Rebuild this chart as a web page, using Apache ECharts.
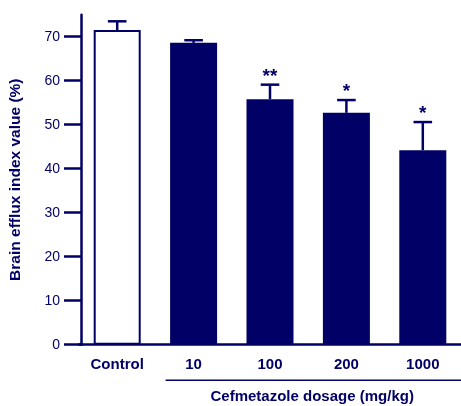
<!DOCTYPE html>
<html>
<head>
<meta charset="utf-8">
<script src="https://cdn.jsdelivr.net/npm/echarts@6/dist/echarts.min.js"></script>
<style>html,body{margin:0;padding:0;background:#fff}#c{width:461px;height:406px}</style>
</head>
<body>
<div id="c"></div>
<script>
var categories = ['Control', '10', '100', '200', '1000'];
var means = [71.5, 68.6, 55.8, 52.7, 44.2];
var sds = [2.0, 0.6, 3.3, 2.9, 6.4];
var significance = ['', '', '**', '*', '*'];
var yTicks = [0, 10, 20, 30, 40, 50, 60, 70];
var yTitle = 'Brain efflux index value (%)';
var xTitle = 'Cefmetazole dosage (mg/kg)';

var NAVY = '#000066';
var FONT = 'Liberation Sans, Arial, sans-serif';
var chart = echarts.init(document.getElementById('c'));

var barData = means.map(function (v, i) {
  return i === 0
    ? { value: v, itemStyle: { color: '#ffffff', borderColor: NAVY, borderWidth: 2 } }
    : { value: v, itemStyle: { color: NAVY } };
});
var errData = means.map(function (v, i) { return [i, v, sds[i], significance[i]]; });

chart.setOption({
  animation: false,
  grid: { left: 75, right: -3, top: 14.7, bottom: 61.3 },
  xAxis: {
    type: 'category',
    data: categories,
    axisTick: { show: false },
    axisLine: { lineStyle: { color: NAVY, width: 2.5 } },
    axisLabel: { color: NAVY, fontWeight: 'bold', fontSize: 15, fontFamily: FONT, margin: 13 }
  },
  yAxis: {
    type: 'value',
    min: 0, max: 75, interval: 10,
    offset: -2,
    name: yTitle,
    nameLocation: 'middle',
    nameGap: 57,
    nameTextStyle: { color: NAVY, fontWeight: 'bold', fontSize: 15.5, fontFamily: FONT },
    splitLine: { show: false },
    axisLine: { show: true, lineStyle: { color: NAVY, width: 2.5 } },
    axisTick: { show: true, length: 17, lineStyle: { color: NAVY, width: 2.5 }, customValues: yTicks },
    axisLabel: { color: NAVY, fontSize: 14, fontFamily: FONT, margin: 21, customValues: yTicks }
  },
  series: [
    {
      type: 'bar',
      data: barData,
      barWidth: 47,
      z: 2
    },
    {
      type: 'custom',
      z: 5,
      data: errData,
      renderItem: function (params, api) {
        var i = api.value(0), m = api.value(1), s = api.value(2);
        var sig = significance[params.dataIndex];
        var base = api.coord([i, m]);
        var top = api.coord([i, m + s]);
        var cw = 9.3;
        var st = { stroke: NAVY, lineWidth: 2.5 };
        var children = [
          { type: 'line', shape: { x1: base[0], y1: base[1], x2: top[0], y2: top[1] }, style: st },
          { type: 'line', shape: { x1: top[0] - cw, y1: top[1], x2: top[0] + cw, y2: top[1] }, style: st }
        ];
        if (sig) {
          children.push({
            type: 'text',
            style: { text: sig, x: top[0], y: top[1] - 8, fill: NAVY, font: 'bold 19px ' + FONT, textAlign: 'center', textVerticalAlign: 'middle' }
          });
        }
        return { type: 'group', children: children };
      }
    }
  ]
});

// dosage group bracket and title, positioned from the axis scale
var p1 = chart.convertToPixel({ gridIndex: 0 }, [1, 0]);
var p4 = chart.convertToPixel({ gridIndex: 0 }, [4, 0]);
var lineStart = p1[0] - 28;
chart.setOption({
  graphic: [
    { type: 'line', shape: { x1: lineStart, y1: p1[1] + 35.5, x2: 461, y2: p1[1] + 35.5 }, style: { stroke: NAVY, lineWidth: 1.5 } },
    { type: 'text', style: { text: xTitle, x: (p1[0] + p4[0]) / 2 + 4, y: p1[1] + 52.5, fill: NAVY, font: 'bold 15px ' + FONT, textAlign: 'center', textVerticalAlign: 'middle' } }
  ]
});
</script>
</body>
</html>
